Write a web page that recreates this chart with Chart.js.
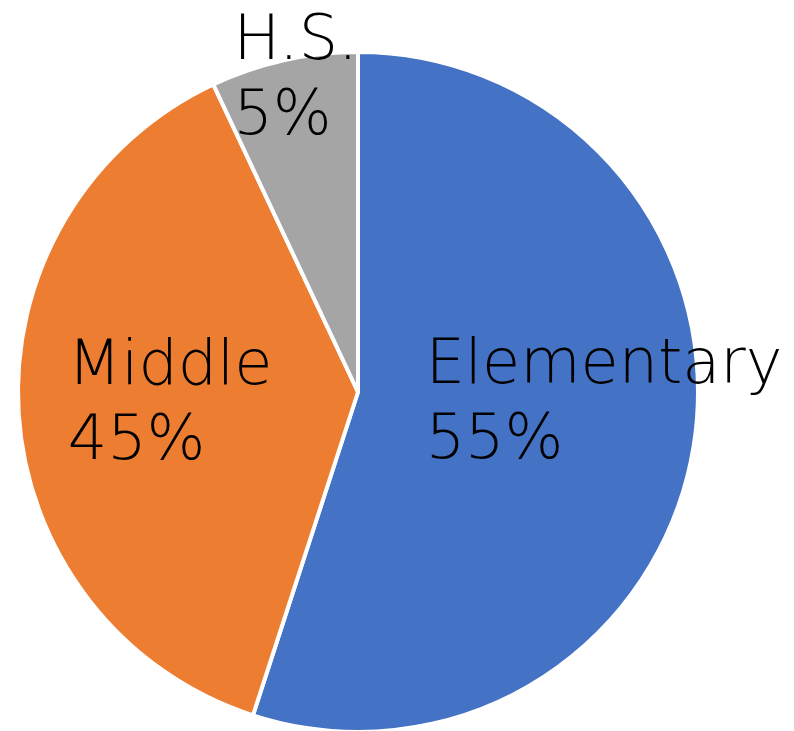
<!DOCTYPE html>
<html>
<head>
<meta charset="utf-8">
<script src="https://cdn.jsdelivr.net/npm/chart.js@4/dist/chart.umd.min.js"></script>
<style>
  html, body { margin: 0; padding: 0; background: #fff; overflow: hidden; }
  #wrap { width: 794px; height: 731px; overflow: hidden; }
</style>
</head>
<body>
<div id="wrap"><canvas id="pie" width="794" height="734"></canvas></div>
<script>
// Slice data (sizes) and the text shown on each slice
const categories = ['Elementary', 'Middle', 'H.S.'];
const shares = [55, 38, 7];
const pctLabels = ['55%', '45%', '5%'];
const colors = ['#4472C4', '#ED7D31', '#A5A5A5'];

// Label placement along each slice: fraction of radius + angle nudge (deg)
const labelPlace = [
    { f: 0.724, da: -7.6 },
    { f: 0.553, da: 1.6 },
    { f: 0.954, da: 1.5 }
];

const sliceLabels = {
    id: 'sliceLabels',
    afterDatasetsDraw(chart) {
        const ctx = chart.ctx;
        const meta = chart.getDatasetMeta(0);
        const fs = 62;
        const lh = 75;
        const capH = fs * 0.73;
        ctx.save();
        ctx.font = '200 ' + fs + 'px "DejaVu Sans", sans-serif';
        ctx.fillStyle = '#000';
        ctx.textAlign = 'left';
        ctx.textBaseline = 'alphabetic';
        meta.data.forEach((arc, i) => {
            const p = arc.getProps(['x', 'y', 'startAngle', 'endAngle', 'outerRadius'], true);
            const mid = (p.startAngle + p.endAngle) / 2 + labelPlace[i].da * Math.PI / 180;
            const r = p.outerRadius * labelPlace[i].f;
            const cx = p.x + Math.cos(mid) * r;
            const cy = p.y + Math.sin(mid) * r;
            const lines = [categories[i], pctLabels[i]];
            const w = Math.max(...lines.map(t => ctx.measureText(t).width));
            const left = cx - w / 2;
            const base = cy - (lh - capH) / 2;
            lines.forEach((t, k) => ctx.fillText(t, left, base + k * lh));
        });
        ctx.restore();
    }
};

new Chart(document.getElementById('pie'), {
    type: 'pie',
    data: {
        labels: categories,
        datasets: [{
            data: shares,
            backgroundColor: colors,
            borderColor: '#ffffff',
            borderWidth: 4
        }]
    },
    options: {
        responsive: false,
        animation: false,
        layout: { padding: { left: 16, right: 94, top: 50, bottom: 0 } },
        plugins: {
            legend: { display: false },
            tooltip: { enabled: false }
        }
    },
    plugins: [sliceLabels]
});
</script>
</body>
</html>
